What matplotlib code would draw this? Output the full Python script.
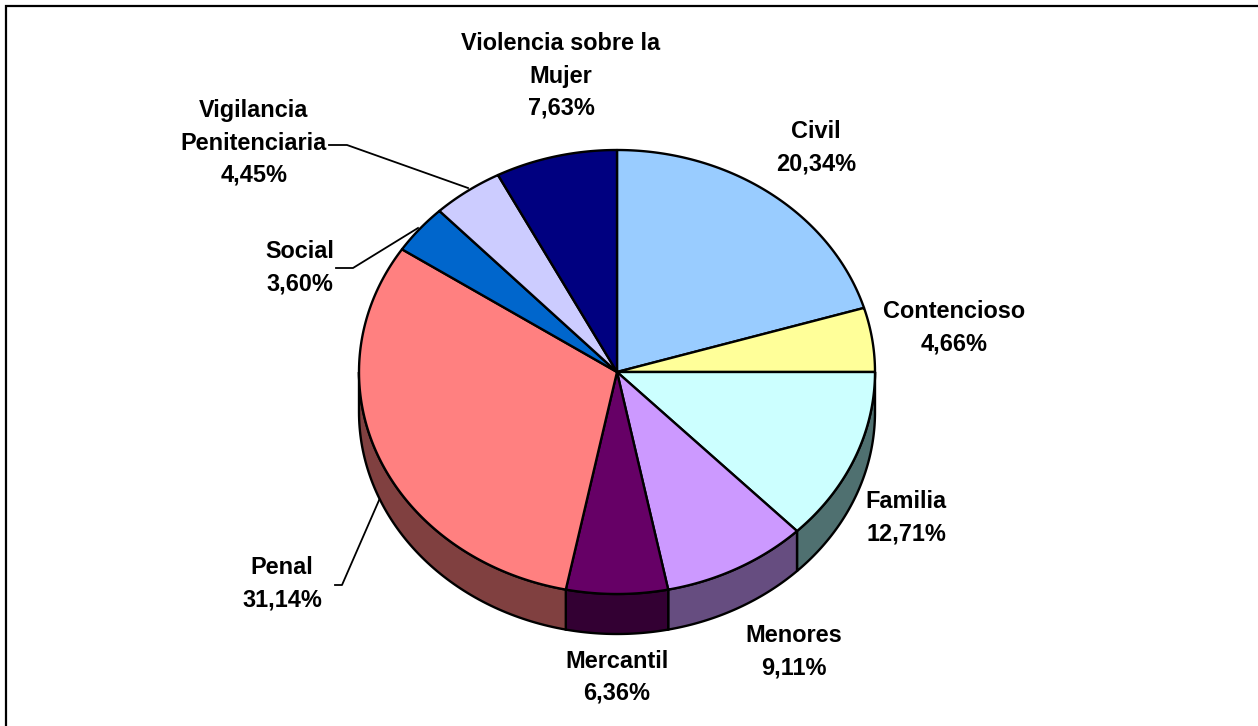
import numpy as np
import matplotlib
matplotlib.use("Agg")
import matplotlib.pyplot as plt

plt.rcParams['font.family'] = ['Liberation Sans', 'DejaVu Sans']

# Datos del gráfico
categorias = ["Civil", "Contencioso", "Familia", "Menores", "Mercantil",
              "Penal", "Social", "Vigilancia\nPenitenciaria", "Violencia sobre la\nMujer"]
valores = [20.34, 4.66, 12.71, 9.11, 6.36, 31.14, 3.60, 4.45, 7.63]
etiquetas = ["20,34%", "4,66%", "12,71%", "9,11%", "6,36%", "31,14%", "3,60%", "4,45%", "7,63%"]
colores = ["#99CCFF", "#FFFF99", "#CCFFFF", "#CC99FF", "#660066",
           "#FF8080", "#0066CC", "#CCCCFF", "#000080"]
laterales = ["#4D6680", "#80804D", "#4F7070", "#664D80", "#330033",
             "#804040", "#003366", "#666680", "#000040"]

W, H = 1258, 726
CX, CY = 617, 372   # centro de la tarta en pixeles
RX, RY = 258, 222
PROF = 40           # grosor del lateral

fig = plt.figure(figsize=(W / 100, H / 100), dpi=100)
ax = fig.add_axes([0, 0, 1, 1])
ax.set_xlim(0, W)
ax.set_ylim(H, 0)
ax.axis("off")

# Marco (solo izquierda y arriba, el resto queda cortado)
ax.plot([5.5, 5.5, W], [H, 6, 6], color="black", lw=1.6, solid_joinstyle="miter")


def elipse(t, dy=0):
    return CX + RX * np.sin(t), CY + dy - RY * np.cos(t)


limites = np.radians(np.cumsum([0] + valores) * 3.6)

# Lateral: solo la mitad delantera
for i, color in enumerate(laterales):
    a = max(limites[i], np.pi / 2)
    b = min(limites[i + 1], 3 * np.pi / 2)
    if a >= b:
        continue
    t = np.linspace(a, b, 80)
    x, y = elipse(t)
    x2, y2 = elipse(t[::-1], PROF)
    ax.fill(np.r_[x, x2], np.r_[y, y2], facecolor=color, edgecolor="black", lw=1.7, zorder=2)

# Cara superior
for i, color in enumerate(colores):
    t = np.linspace(limites[i], limites[i + 1], 120)
    x, y = elipse(t)
    ax.fill(np.r_[CX, x], np.r_[CY, y], facecolor=color, edgecolor="black", lw=1.7,
            joinstyle="round", zorder=3)

# Etiquetas
pos = [(816, 148), (954, 328), (906, 518), (794, 652), (617, 677),
       (282, 584), (300, 268), (254, 143), (561, 76)]
for nombre, etiq, (px, py) in zip(categorias, etiquetas, pos):
    ax.text(px, py, nombre + "\n" + etiq, ha="center", va="center", fontsize=16.9,
            fontweight="bold", linespacing=1.5, color="black", zorder=5)

# Lineas guia
guias = [([329, 347, 468], [145, 145, 188]),
         ([336, 353, 418], [268, 268, 228]),
         ([335, 342, 380], [585, 585, 498])]
for gx, gy in guias:
    ax.plot(gx, gy, color="black", lw=1.3, zorder=1)

fig.savefig("out.png", dpi=100, facecolor="white")
